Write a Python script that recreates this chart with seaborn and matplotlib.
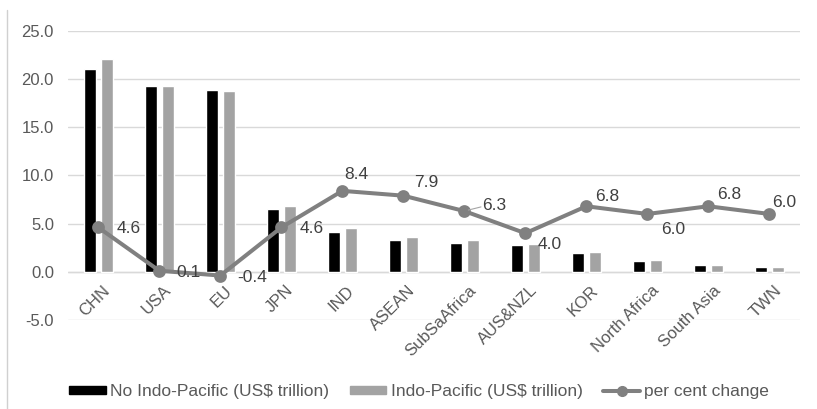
import matplotlib
matplotlib.use("Agg")
import matplotlib.pyplot as plt
import seaborn as sns
import pandas as pd
from matplotlib.lines import Line2D
from matplotlib.patches import Patch

regions = ["CHN", "USA", "EU", "JPN", "IND", "ASEAN", "SubSaAfrica", "AUS&NZL",
           "KOR", "North Africa", "South Asia", "TWN"]
no_indo_pacific = [21.1, 19.3, 18.9, 6.5, 4.1, 3.3, 3.0, 2.8, 1.9, 1.1, 0.7, 0.5]
indo_pacific = [22.1, 19.3, 18.8, 6.8, 4.5, 3.6, 3.3, 2.9, 2.0, 1.2, 0.7, 0.5]
pct_change = [4.6, 0.1, -0.4, 4.6, 8.4, 7.9, 6.3, 4.0, 6.8, 6.0, 6.8, 6.0]
y_ticks = [-5.0, 0.0, 5.0, 10.0, 15.0, 20.0, 25.0]

s_no = "No Indo-Pacific (US$ trillion)"
s_ip = "Indo-Pacific (US$ trillion)"
s_pc = "per cent change"

sns.set_theme(style="white")
plt.rcParams["font.family"] = ["Liberation Sans", "DejaVu Sans"]

bars = pd.DataFrame({
    "region": regions * 2,
    "value": no_indo_pacific + indo_pacific,
    "series": [s_no] * len(regions) + [s_ip] * len(regions),
})
line = pd.DataFrame({"region": regions, "value": pct_change})

fig = plt.figure(figsize=(8.17, 4.09), dpi=100)
ax = fig.add_axes([0.083, 0.218, 0.896, 0.706])

black = "#000000"
grey = "#a3a3a3"
line_grey = "#808080"
text_col = "#595959"
label_col = "#404040"

sns.barplot(data=bars, x="region", y="value", hue="series", order=regions,
            hue_order=[s_no, s_ip], palette=[black, grey], width=0.56, gap=0.29,
            saturation=1, legend=False, ax=ax, zorder=2)
sns.pointplot(data=line, x="region", y="value", order=regions, color=line_grey,
              markers="o", markersize=7, linewidth=2.9, ax=ax, zorder=3)

ax.set_ylim(-5, 25)
ax.set_xlim(-0.5, len(regions) - 0.5)
ax.set_yticks(y_ticks)
ax.set_yticklabels([f"{v:.1f}" for v in y_ticks], fontsize=12, color=text_col)
ax.set_xticks(range(len(regions)))
ax.set_xticklabels([])
ax.tick_params(axis="x", length=0)
ax.tick_params(axis="y", length=0, pad=10)
ax.set_xlabel("")
ax.set_ylabel("")
ax.grid(axis="y", color="#d9d9d9", linewidth=1)
ax.set_axisbelow(True)
for sp in ax.spines.values():
    sp.set_visible(False)
ax.axhline(0, color="#d9d9d9", linewidth=1, zorder=1)

# category labels sit just under the zero line
for i, name in enumerate(regions):
    ax.annotate(name, (i, 0), xytext=(3, -8), textcoords="offset points",
                ha="right", va="top", rotation=45, rotation_mode="anchor",
                fontsize=12, color=text_col)

# data labels for per cent change (offsets in points)
offsets = [(13, -1), (12, -1), (12, -1.5), (13, -1), (1.5, 12), (8, 9.5),
           (13, 4), (8.5, -8), (6, 7), (10, -11.5), (6, 8.5), (2, 8.5)]
for i, (v, (dx, dy)) in enumerate(zip(pct_change, offsets)):
    ax.annotate(f"{v:.1f}", (i, v), xytext=(dx, dy), textcoords="offset points",
                ha="left", va="center", fontsize=12.5, color=label_col, zorder=4)
ax.annotate("", (6, 6.3), xytext=(12, 3), textcoords="offset points",
            arrowprops=dict(arrowstyle="-", color="#a5a5a5", lw=0.8,
                            shrinkA=0, shrinkB=3))

handles = [Patch(facecolor=black, edgecolor=black),
           Patch(facecolor=grey, edgecolor=grey),
           Line2D([0], [0], color=line_grey, lw=2.9, marker="o", markersize=7)]
fig.legend(handles, [s_no, s_ip, s_pc], loc="center", bbox_to_anchor=(0.513, 0.042),
           ncol=3, frameon=False, fontsize=12.5, handlelength=2.1, handleheight=0.35,
           columnspacing=1.2, handletextpad=0.25, labelcolor=text_col)

fig.add_artist(Line2D([0.009, 0.009], [0.0, 0.975], color="#d0d0d0", lw=1,
                      transform=fig.transFigure))

fig.savefig("out.png", dpi=100)
